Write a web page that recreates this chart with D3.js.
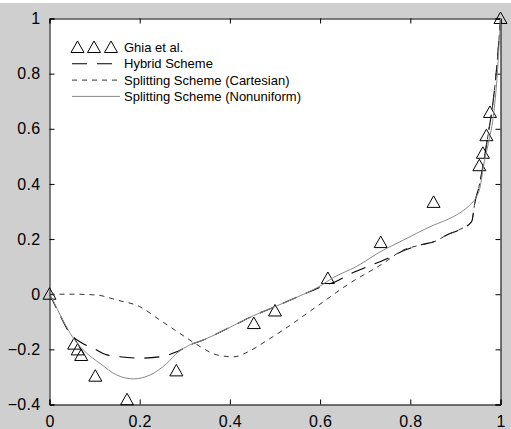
<!DOCTYPE html>
<html lang="en">
<head>
    <meta charset="utf-8">
    <title>u velocity profile</title>
	<script src="https://d3js.org/d3.v7.min.js"></script>
	<style>
		body { margin:0; background:#ffffff; }
		text { font-family:"Liberation Sans", Arial, sans-serif; fill:#000; }
		.tick text { font-size:16px; letter-spacing:0.3px; }
		.legend text { font-size:13px; }
	</style>
</head>
<body>
<svg width="511" height="429"></svg>
<script>
	// Ghia et al. reference points
	var ghiaX = [0, 0.0547, 0.0625, 0.0703, 0.1016, 0.1719, 0.2813, 0.4531, 0.5, 0.6172, 0.7344, 0.8516, 0.9531, 0.9609, 0.9688, 0.9766, 1];
	var ghiaY = [0, -0.18109, -0.20196, -0.2222, -0.2973, -0.38289, -0.27805, -0.10648, -0.0608, 0.05702, 0.18719, 0.33304, 0.46604, 0.51117, 0.57492, 0.65928, 1];

	// hybrid scheme
	var hybridX = [0, 0.02, 0.045, 0.07, 0.097, 0.127, 0.156, 0.2, 0.245, 0.282, 0.31, 0.341, 0.4, 0.452, 0.5, 0.55, 0.6, 0.64, 0.67, 0.714, 0.751, 0.788, 0.821, 0.858, 0.881, 0.91, 0.936, 0.943, 0.954, 0.962, 0.973, 0.984, 0.993, 1];
	var hybridY = [0, -0.065, -0.141, -0.175, -0.196, -0.22, -0.227, -0.232, -0.227, -0.209, -0.185, -0.166, -0.12, -0.078, -0.045, -0.01, 0.025, 0.05, 0.076, 0.106, 0.13, 0.16, 0.178, 0.194, 0.215, 0.235, 0.263, 0.33, 0.402, 0.475, 0.584, 0.704, 0.85, 1];

	// splitting scheme, cartesian grid
	var cartX = [0, 0.05, 0.105, 0.149, 0.2, 0.245, 0.289, 0.334, 0.371, 0.408, 0.445, 0.48, 0.518, 0.592, 0.666, 0.74, 0.784, 0.821, 0.858, 0.881, 0.91, 0.936, 0.943, 0.954, 0.962, 0.973, 0.984, 0.993, 1];
	var cartY = [0, 0, -0.003, -0.021, -0.045, -0.094, -0.142, -0.19, -0.22, -0.227, -0.205, -0.17, -0.13, -0.045, 0.04, 0.112, 0.16, 0.178, 0.194, 0.215, 0.235, 0.263, 0.33, 0.402, 0.475, 0.584, 0.704, 0.85, 1];

	// splitting scheme, nonuniform grid
	var nonuX = [0, 0.01, 0.025, 0.04, 0.053, 0.08, 0.112, 0.149, 0.186, 0.223, 0.26, 0.285, 0.31, 0.341, 0.4, 0.452, 0.5, 0.55, 0.6, 0.629, 0.68, 0.74, 0.777, 0.814, 0.851, 0.888, 0.917, 0.936, 0.947, 0.955, 0.962, 0.973, 0.984, 0.993, 1];
	var nonuY = [0, -0.03, -0.08, -0.125, -0.16, -0.21, -0.251, -0.293, -0.307, -0.293, -0.251, -0.21, -0.185, -0.166, -0.12, -0.078, -0.045, -0.01, 0.03, 0.06, 0.1, 0.16, 0.19, 0.221, 0.25, 0.275, 0.303, 0.33, 0.354, 0.39, 0.462, 0.547, 0.644, 0.8, 1];

	var xTicks = [0, 0.2, 0.4, 0.6, 0.8, 1];
	var yTicks = [-0.4, -0.2, 0, 0.2, 0.4, 0.6, 0.8, 1];
	var legendLabels = ["Ghia et al.", "Hybrid Scheme", "Splitting Scheme (Cartesian)", "Splitting Scheme (Nonuniform)"];

	var svg = d3.select("svg");
	var pLeft = 49.5, pRight = 500.5, pTop = 18.5, pBottom = 404.5;

	svg.append("rect").attr("x", 0).attr("y", 3).attr("width", 511).attr("height", 426).style("fill", "#cfcfcf");
	svg.append("rect").attr("x", pLeft).attr("y", pTop).attr("width", pRight - pLeft).attr("height", pBottom - pTop).style("fill", "#fff");

	var x = d3.scaleLinear().domain([0, 1]).range([pLeft, pRight]);
	var y = d3.scaleLinear().domain([-0.4, 1]).range([pBottom, pTop]);

	var fmt = function(d) { return d3.format("")(+d.toFixed(1)); };

	// axes on all four sides, ticks pointing in
	svg.append("g").attr("transform", "translate(0," + pBottom + ")")
		.call(d3.axisBottom(x).tickValues(xTicks).tickSize(-5).tickPadding(11).tickFormat(fmt));
	svg.append("g").attr("transform", "translate(0," + pTop + ")")
		.call(d3.axisTop(x).tickValues(xTicks).tickSize(-5).tickFormat(""));
	svg.append("g").attr("transform", "translate(" + pLeft + ",0)")
		.call(d3.axisLeft(y).tickValues(yTicks).tickSize(-5).tickPadding(9).tickFormat(fmt));
	svg.append("g").attr("transform", "translate(" + pRight + ",0)")
		.call(d3.axisRight(y).tickValues(yTicks).tickSize(-5).tickFormat(""));
	svg.selectAll(".domain").style("stroke", "#000");
	svg.selectAll(".tick line").style("stroke", "#000");
	svg.selectAll(".tick text").attr("font-family", null).attr("font-size", null);

	var tri = "M0,-6.5L6.5,5L-6.5,5Z";

	svg.append("g").selectAll("path").data(d3.range(ghiaX.length)).enter().append("path")
		.attr("d", tri)
		.attr("transform", function(i) { return "translate(" + x(ghiaX[i]) + "," + y(ghiaY[i]) + ")"; })
		.style("fill", "none").style("stroke", "#000").style("stroke-width", 1);

	var line = function(xs, ys) {
		return d3.line().curve(d3.curveMonotoneX)
			.x(function(i) { return x(xs[i]); })
			.y(function(i) { return y(ys[i]); })(d3.range(xs.length));
	};

	var series = [
		{ d: line(hybridX, hybridY), stroke: "#000", dash: "15,10", w: 1.1 },
		{ d: line(cartX, cartY), stroke: "#333", dash: "5,5", w: 1 },
		{ d: line(nonuX, nonuY), stroke: "#888", dash: null, w: 1 }
	];
	svg.append("g").selectAll("path").data(series).enter().append("path")
		.attr("d", function(s) { return s.d; })
		.style("fill", "none")
		.style("stroke", function(s) { return s.stroke; })
		.style("stroke-width", function(s) { return s.w; })
		.style("stroke-dasharray", function(s) { return s.dash; });

	// legend
	var lg = svg.append("g").attr("class", "legend");
	var rowY = function(i) { return 47.5 + i * 16.3; };
	lg.selectAll("text").data(legendLabels).enter().append("text")
		.attr("x", 124).attr("y", function(d, i) { return rowY(i); })
		.attr("dy", "0.35em").text(function(d) { return d; });
	lg.selectAll("path.mk").data([77.5, 94, 111]).enter().append("path").attr("class", "mk")
		.attr("d", tri)
		.attr("transform", function(d) { return "translate(" + d + "," + rowY(0) + ")"; })
		.style("fill", "none").style("stroke", "#000");
	lg.selectAll("line").data(series).enter().append("line")
		.attr("x1", 72).attr("x2", 120)
		.attr("y1", function(d, i) { return rowY(i + 1); }).attr("y2", function(d, i) { return rowY(i + 1); })
		.style("stroke", function(s) { return s.stroke; })
		.style("stroke-width", function(s) { return s.w; })
		.style("stroke-dasharray", function(s) { return s.dash; });
</script>
</body>
</html>
